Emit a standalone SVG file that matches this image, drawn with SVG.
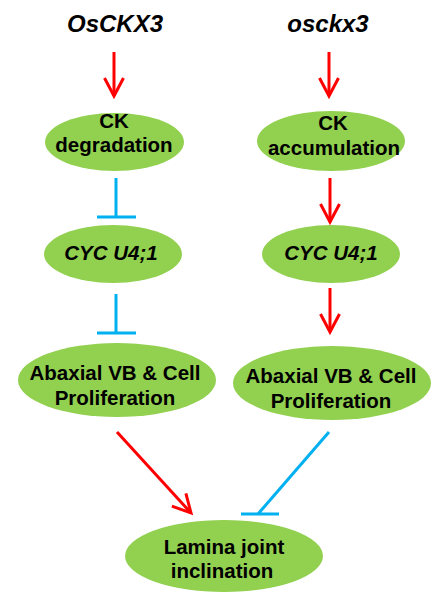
<svg xmlns="http://www.w3.org/2000/svg" width="442" height="597" viewBox="0 0 442 597">
<style>
.node ellipse{fill:#92D050;stroke:none}
.lbl{font-family:"Liberation Sans",Arial,sans-serif;font-weight:bold;font-size:20.5px;fill:#000;text-anchor:middle}
.it{font-style:italic}
.title{font-family:"Liberation Sans",Arial,sans-serif;font-weight:bold;font-style:italic;font-size:24px;fill:#000;text-anchor:middle}
.act{stroke:#FF0000;stroke-width:3;fill:none;marker-end:url(#ah)}
.inh{stroke:#00B0F0;stroke-width:3;fill:none}
</style>
<defs>
<marker id="ah" markerUnits="userSpaceOnUse" viewBox="0 0 24 24" markerWidth="24" markerHeight="24" refX="20" refY="12" orient="auto">
<path d="M2,2.5 L20,12 L2,21.5" fill="none" stroke="#FF0000" stroke-width="3"/>
</marker>
</defs>
<g id="title-left"><text class="title" x="115" y="32">OsCKX3</text></g>
<g id="title-right"><text class="title" x="328" y="32">osckx3</text></g>
<g id="ck-degradation" class="node"><ellipse cx="114.5" cy="142" rx="69.5" ry="29"/><text class="lbl" x="114" y="128">CK</text><text class="lbl" x="114" y="152">degradation</text></g>
<g id="ck-accumulation" class="node"><ellipse cx="331" cy="141" rx="74" ry="30"/><text class="lbl" x="333" y="130">CK</text><text class="lbl" x="334" y="155">accumulation</text></g>
<g id="cyc-left" class="node"><ellipse cx="113" cy="254" rx="69" ry="29"/><text class="lbl it" x="111" y="260">CYC U4;1</text></g>
<g id="cyc-right" class="node"><ellipse cx="331" cy="254" rx="69" ry="29"/><text class="lbl it" x="331" y="260">CYC U4;1</text></g>
<g id="abaxial-left" class="node"><ellipse cx="117" cy="380" rx="99" ry="37"/><text class="lbl" x="115" y="380">Abaxial VB &amp; Cell</text><text class="lbl" x="115" y="405">Proliferation</text></g>
<g id="abaxial-right" class="node"><ellipse cx="332" cy="383" rx="99" ry="37"/><text class="lbl" x="331" y="383">Abaxial VB &amp; Cell</text><text class="lbl" x="331" y="408">Proliferation</text></g>
<g id="lamina" class="node"><ellipse cx="224" cy="556" rx="99" ry="36"/><text class="lbl" x="224" y="554">Lamina joint</text><text class="lbl" x="222" y="578">inclination</text></g>
<g id="connectors">
<line class="act" x1="114" y1="52" x2="114" y2="96"/>
<line class="act" x1="329" y1="52" x2="329" y2="96"/>
<line class="inh" x1="116" y1="178" x2="116" y2="217"/>
<line class="inh" x1="97" y1="217" x2="136" y2="217"/>
<line class="act" x1="330" y1="178" x2="330" y2="222"/>
<line class="inh" x1="116" y1="294" x2="116" y2="333"/>
<line class="inh" x1="97" y1="333" x2="136" y2="333"/>
<line class="act" x1="330" y1="288" x2="330" y2="332"/>
<line class="act" x1="117" y1="432" x2="191" y2="513"/>
<line class="inh" x1="329" y1="432" x2="258" y2="514"/>
<line class="inh" x1="241" y1="514" x2="279" y2="514"/>
</g>
</svg>
